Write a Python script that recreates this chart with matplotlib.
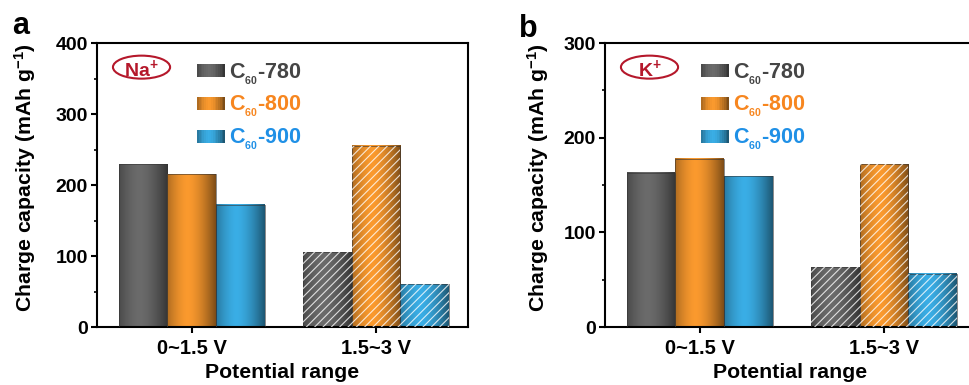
import numpy as np
import matplotlib
matplotlib.use("Agg")
import matplotlib.pyplot as plt
from matplotlib.patches import Ellipse, Rectangle, Patch
from matplotlib.legend_handler import HandlerBase
from matplotlib.colors import to_rgb

plt.rcParams['font.family'] = ['Liberation Sans', 'DejaVu Sans']
plt.rcParams['font.weight'] = 'bold'
plt.rcParams['axes.labelweight'] = 'bold'
plt.rcParams['mathtext.fontset'] = 'custom'
plt.rcParams['mathtext.rm'] = 'Liberation Sans:bold'
plt.rcParams['mathtext.bf'] = 'Liberation Sans:bold'
plt.rcParams['mathtext.it'] = 'Liberation Sans:bold'
plt.rcParams['hatch.linewidth'] = 0.8

# données
ranges = ['0~1.5 V', '1.5~3 V']
samples = ['780', '800', '900']
na_vals = {'780': [229, 105], '800': [215, 255], '900': [172, 60]}
k_vals = {'780': [163, 63], '800': [178, 172], '900': [159, 56]}

bar_colors = {'780': '#6b6b6b', '800': '#fb9a2e', '900': '#3aaee6'}
text_colors = {'780': '#454545', '800': '#f7861f', '900': '#1f90e6'}
ion_color = '#b5182b'


def gradient(color, n=64):
    # ombrage cylindrique : bords sombres, centre clair
    t = np.linspace(0, 1, n)
    f = 1 - 0.5 * np.abs((t - 0.42) / 0.58) ** 1.6
    rgb = np.array(to_rgb(color))
    return np.clip(f[:, None] * rgb[None, :], 0, 1)


class GradHandler(HandlerBase):
    def create_artists(self, legend, orig_handle, xdescent, ydescent,
                       width, height, fontsize, trans):
        cols = gradient(orig_handle.get_facecolor(), 16)
        arts = []
        w = width / len(cols)
        for i, c in enumerate(cols):
            r = Rectangle((-xdescent + i * w, -ydescent), w * 1.05, height,
                          facecolor=c, edgecolor='none', transform=trans)
            arts.append(r)
        return arts


fig = plt.figure(figsize=(9.7, 3.85), dpi=100)
ax_a = fig.add_axes([0.1, 0.1506, 0.3825, 0.7377])
ax_b = fig.add_axes([0.6237, 0.1506, 0.3825, 0.7377])

x = np.arange(len(ranges))
w = 0.266
offsets = [-w, 0, w]
hatches = ['', '////']


def draw_panel(ax, vals, ymax, ion, leg_x, ylab_x):
    for off, s in zip(offsets, samples):
        bars = ax.bar(x + off, vals[s], w, facecolor='none',
                      edgecolor='#333333', linewidth=0.4, zorder=3)
        for j, p in enumerate(bars.patches):
            x0, h, bw = p.get_x(), p.get_height(), p.get_width()
            ax.imshow(gradient(bar_colors[s])[None, :, :],
                      extent=(x0, x0 + bw, 0, h), aspect='auto', zorder=2)
            if hatches[j]:
                ax.bar(x[j] + off, vals[s][j], w, facecolor='none',
                       edgecolor=(1, 1, 1, 0.8), linewidth=0,
                       hatch=hatches[j], zorder=4)
    ax.set_xlim(-0.516, 1.5)
    ax.set_ylim(0, ymax)
    ax.set_xticks(x)
    ax.set_xticklabels(ranges, fontsize=14.5)
    ax.set_yticks(np.arange(0, ymax + 1, 100))
    ax.set_yticks(np.arange(50, ymax, 100), minor=True)
    ax.tick_params(axis='y', labelsize=14, width=1.5, length=4.5, pad=2)
    ax.tick_params(axis='y', which='minor', width=1.2, length=2.5)
    ax.tick_params(axis='x', width=1.5, length=4.5, pad=4)
    for sp in ax.spines.values():
        sp.set_linewidth(1.5)
    ax.set_xlabel('Potential range', fontsize=15.3, fontweight='bold')
    ax.xaxis.set_label_coords(0.5, -0.125)
    ax.set_ylabel(r'Charge capacity (mAh g$^{\mathbf{-1}}$)', fontsize=15.3,
                  fontweight='bold')
    ax.yaxis.set_label_coords(ylab_x, 0.525)

    ax.add_patch(Ellipse((0.12, 0.915), 0.154, 0.081, transform=ax.transAxes,
                         facecolor='none', edgecolor=ion_color, linewidth=1.5,
                         zorder=5))
    ax.text(0.12, 0.907, ion, transform=ax.transAxes, ha='center',
            va='center', color=ion_color, fontsize=14, fontweight='bold',
            zorder=6)

    handles = [Patch(facecolor=bar_colors[s]) for s in samples]
    labels = [r'C$_{_{\mathbf{60}}}$-' + s for s in samples]
    leg = ax.legend(handles, labels, loc='upper left',
                    bbox_to_anchor=(leg_x, 0.935), frameon=False, fontsize=15.5,
                    handlelength=1.3, handleheight=0.56, handletextpad=0.2,
                    labelspacing=0.36, borderpad=0, borderaxespad=0,
                    handler_map={Patch: GradHandler()})
    for t, s in zip(leg.get_texts(), samples):
        t.set_color(text_colors[s])
        t.set_fontweight('bold')


draw_panel(ax_a, na_vals, 400, r'Na$^{\mathbf{+}}$', 0.27, -0.16)
draw_panel(ax_b, k_vals, 300, r'K$^{\mathbf{+}}$', 0.259, -0.145)

fig.text(0.012, 0.912, 'a', fontsize=22, fontweight='bold')
fig.text(0.535, 0.905, 'b', fontsize=22, fontweight='bold')

fig.savefig('out.png', dpi=100)
